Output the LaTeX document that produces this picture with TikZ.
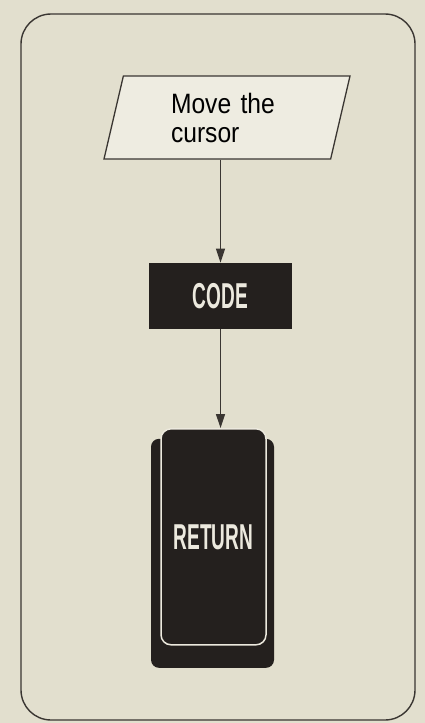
\documentclass[tikz,border=0pt]{standalone}
\usepackage{fontspec}
\usepackage{tikz}
\usetikzlibrary{arrows.meta,positioning,shapes.geometric,backgrounds}
\setmainfont{Liberation Sans}
\newfontfamily\captionfont[FakeStretch=0.88]{Liberation Sans}
\newfontfamily\keyfont[FakeStretch=0.53]{Liberation Sans Bold}
\definecolor{paper}{RGB}{226,223,206}
\definecolor{paperlight}{RGB}{238,236,225}
\definecolor{keyblack}{RGB}{36,32,30}
\definecolor{inkline}{RGB}{58,54,50}
\definecolor{keytext}{RGB}{236,233,222}

\begin{document}
\begin{tikzpicture}[
    x=1pt, y=-1pt,
    frame/.style={draw=inkline, line width=1.4pt, rounded corners=30pt},
    io/.style={draw=inkline, line width=1.3pt, trapezium, trapezium left angle=71, trapezium right angle=109, trapezium stretches body, minimum width=246pt, minimum height=83pt, fill=paperlight, text width=112pt, align=left, font=\captionfont\fontsize{28}{29}\selectfont},
    keycode/.style={rectangle, fill=keyblack, minimum width=143pt, minimum height=66pt, inner sep=0pt, text=keytext, font=\keyfont\fontsize{36}{36}\selectfont},
    keytop/.style={rectangle, rounded corners=10pt, draw=keytext, line width=1.5pt, fill=keyblack, minimum width=105pt, minimum height=216pt, inner sep=0pt, text=keytext, font=\keyfont\fontsize{36}{36}\selectfont},
    keybase/.style={rectangle, rounded corners=8pt, fill=keyblack, minimum width=123pt, minimum height=229pt},
    arrow/.style={-{Triangle[length=14pt,width=9pt]}, line width=1.2pt, draw=inkline}
]
\useasboundingbox (0,0) rectangle (425,723);
\draw[frame] (21,14) rectangle (415,720);

\node[io] (move) at (227,117.5) {Move the\\cursor};
\node[keycode, below=103pt of move, xshift=-6.5pt] (code) {CODE};
\node[keytop, below=99pt of code, xshift=-7pt] (ret) {RETURN};

\begin{scope}[on background layer]
  \fill[paper] (0,0) rectangle (425,723);
  \node[keybase] (retbase) at ([xshift=-1pt,yshift=-16.5pt]ret.center) {};
\end{scope}

\draw[arrow] (move.south -| code.north) -- (code.north);
\draw[arrow] (code.south) -- (code.south |- ret.north);
\end{tikzpicture}
\end{document}
